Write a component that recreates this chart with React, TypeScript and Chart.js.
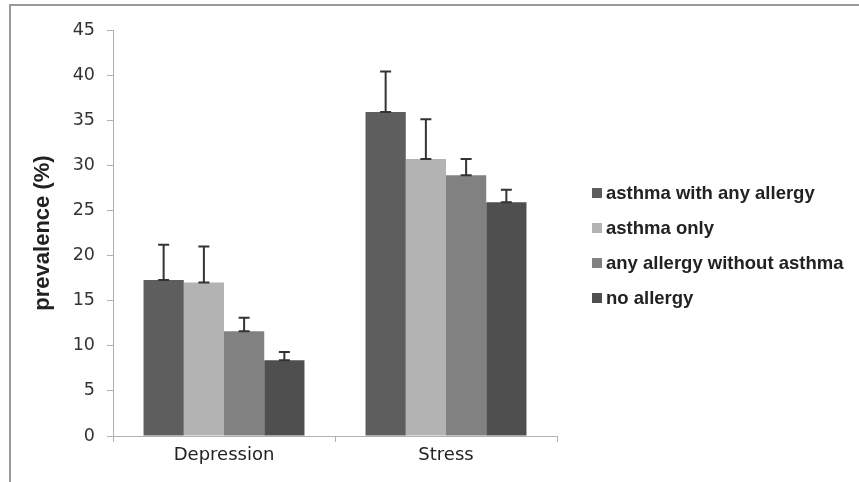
import React, { useEffect, useRef } from "react";
import { Chart, registerables } from "chart.js";

Chart.register(...registerables);

const categories = ["Depression", "Stress"];
const seriesNames = ["asthma with any allergy", "asthma only", "any allergy without asthma", "no allergy"];
const asthmaWithAllergy = [17.3, 35.9];
const asthmaOnly = [17.0, 30.7];
const allergyNoAsthma = [11.6, 28.9];
const noAllergy = [8.4, 25.9];
const errAsthmaWithAllergy = [3.9, 4.5];
const errAsthmaOnly = [4.0, 4.4];
const errAllergyNoAsthma = [1.5, 1.8];
const errNoAllergy = [0.9, 1.4];
const yTicks = [0, 5, 10, 15, 20, 25, 30, 35, 40, 45];

const colors = ["#5e5e5e", "#b3b3b3", "#818181", "#4f4f4f"];

const errorBarPlugin = {
  id: "errorBars",
  afterDatasetsDraw(chart: any) {
    const ctx = chart.ctx;
    const y = chart.scales.y;
    chart.data.datasets.forEach((ds: any, i: number) => {
      const meta = chart.getDatasetMeta(i);
      meta.data.forEach((bar: any, j: number) => {
        const v = ds.data[j];
        const e = ds.errors[j];
        const x = bar.x;
        const y0 = y.getPixelForValue(v);
        const y1 = y.getPixelForValue(v + e);
        ctx.save();
        ctx.strokeStyle = "#333";
        ctx.lineWidth = 2;
        ctx.beginPath();
        ctx.moveTo(x, y0);
        ctx.lineTo(x, y1);
        ctx.moveTo(x - 5.5, y1);
        ctx.lineTo(x + 5.5, y1);
        ctx.moveTo(x - 5.5, y0);
        ctx.lineTo(x + 5.5, y0);
        ctx.stroke();
        ctx.restore();
      });
    });
  },
};

const framePlugin = {
  id: "frameLegend",
  beforeDraw(chart: any) {
    const ctx = chart.ctx;
    ctx.save();
    ctx.fillStyle = "#ffffff";
    ctx.fillRect(0, 0, chart.width, chart.height);
    ctx.strokeStyle = "#9a9a9a";
    ctx.lineWidth = 2;
    ctx.beginPath();
    ctx.moveTo(10, chart.height);
    ctx.lineTo(10, 5);
    ctx.lineTo(chart.width, 5);
    ctx.stroke();
    ctx.restore();
  },
  afterDraw(chart: any) {
    const ctx = chart.ctx;
    ctx.save();
    ctx.font = "bold 18.5px 'Liberation Sans', Arial, sans-serif";
    ctx.textBaseline = "middle";
    seriesNames.forEach((name, i) => {
      const cy = 193 + i * 35;
      ctx.fillStyle = colors[i];
      ctx.fillRect(592, cy - 5, 10, 10);
      ctx.fillStyle = "#222";
      ctx.fillText(name, 606, cy + 1);
    });
    ctx.restore();
  },
};

export default function App() {
  const ref = useRef<HTMLCanvasElement>(null);
  useEffect(() => {
    if (!ref.current) return;
    const values = [asthmaWithAllergy, asthmaOnly, allergyNoAsthma, noAllergy];
    const errs = [errAsthmaWithAllergy, errAsthmaOnly, errAllergyNoAsthma, errNoAllergy];
    const chart = new Chart(ref.current, {
      type: "bar",
      data: {
        labels: categories,
        datasets: seriesNames.map((n, i) => ({
          label: n,
          data: values[i],
          errors: errs[i],
          backgroundColor: colors[i],
          borderWidth: 0,
          categoryPercentage: 0.725,
          barPercentage: 1.0,
        })) as any,
      },
      options: {
        animation: false,
        responsive: false,
        maintainAspectRatio: false,
        layout: { padding: { left: 0, right: 302, top: 30, bottom: 0 } },
        plugins: { legend: { display: false }, tooltip: { enabled: false } },
        scales: {
          x: {
            offset: true,
            grid: {
              offset: true,
              drawOnChartArea: false,
              drawTicks: true,
              tickLength: 6,
              color: "#b0b0b0",
            },
            border: { color: "#b0b0b0", width: 1 },
            ticks: {
              color: "#222",
              font: { family: "'DejaVu Sans', sans-serif", size: 18 },
              padding: 3,
            },
            afterFit(scale: any) {
              scale.height = 46;
            },
          },
          y: {
            min: 0,
            max: 45,
            afterBuildTicks(scale: any) {
              scale.ticks = yTicks.map((v) => ({ value: v }));
            },
            grid: {
              drawOnChartArea: false,
              drawTicks: true,
              tickLength: 6,
              color: "#b0b0b0",
            },
            border: { color: "#b0b0b0", width: 1 },
            ticks: {
              color: "#333",
              font: { family: "'DejaVu Sans', sans-serif", size: 17.5 },
              padding: 12,
            },
            title: {
              display: true,
              text: "prevalence (%)",
              color: "#222",
              font: { family: "'Liberation Sans', Arial, sans-serif", size: 22, weight: "bold" },
              padding: { top: 30, bottom: 0 },
            },
            afterFit(scale: any) {
              scale.width = 113;
            },
          },
        },
      },
      plugins: [framePlugin, errorBarPlugin],
    });
    return () => chart.destroy();
  }, []);
  return (
    <canvas
      ref={ref}
      width={859}
      height={482}
      style={{ position: "fixed", left: 0, top: 0, width: 859, height: 482 }}
    />
  );
}
